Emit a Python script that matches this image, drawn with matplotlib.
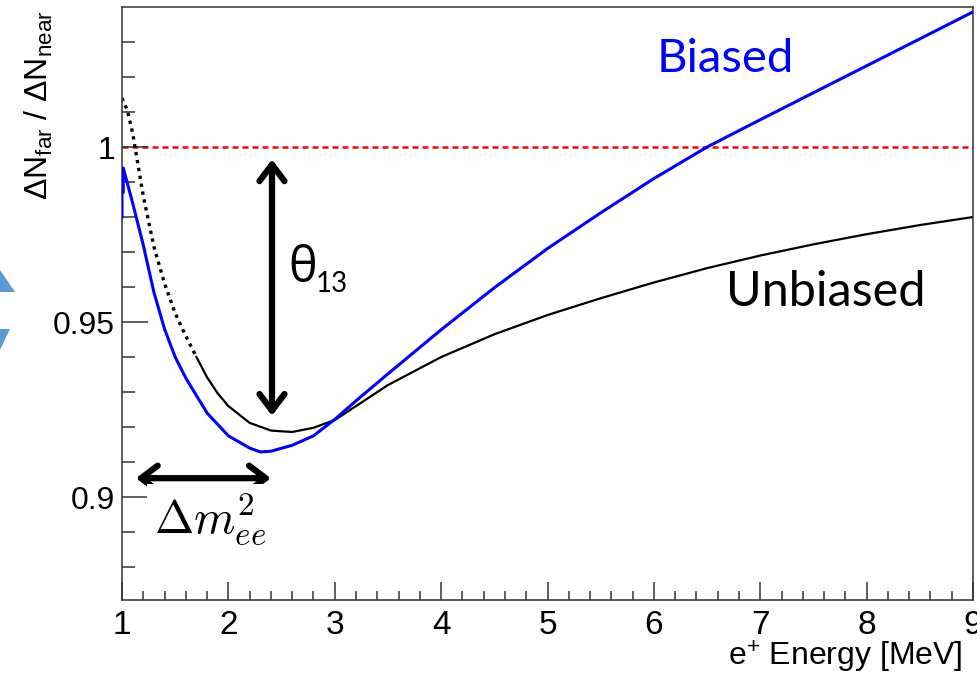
"""
far/near ratio vs positron energy, biased vs unbiased
"""
import numpy as np
import matplotlib
matplotlib.use('Agg')
import matplotlib.pyplot as plt
from matplotlib.patches import Polygon

plt.rcParams['font.family'] = ['Liberation Sans', 'DejaVu Sans']
plt.rcParams['mathtext.fontset'] = 'custom'
plt.rcParams['mathtext.rm'] = 'Liberation Sans'
plt.rcParams['mathtext.it'] = 'Liberation Sans:italic'

# unbiased (black) curve
e_unb = [1.00, 1.05, 1.10, 1.20, 1.30, 1.40, 1.50, 1.60, 1.70, 1.80, 1.90, 2.00, 2.20, 2.40,
         2.60, 2.80, 3.00, 3.50, 4.00, 4.50, 5.00, 5.50, 6.00, 6.50, 7.00, 7.50, 8.00,
         8.50, 9.00]
r_unb = [1.014, 1.0105, 1.004, 0.986, 0.9715, 0.961, 0.9525, 0.946, 0.9400, 0.9342, 0.9296,
         0.9260, 0.9212, 0.9190, 0.9186, 0.9198, 0.9220, 0.9320, 0.9400, 0.9465, 0.9520,
         0.9568, 0.9613, 0.9654, 0.9690, 0.9722, 0.9751, 0.9777, 0.9800]
e_dotted_end = 1.7

# biased (blue) curve, incl. the little step at threshold
e_bias = [1.00, 1.00, 1.012, 1.012, 1.10, 1.20, 1.30, 1.40, 1.50, 1.60, 1.80, 2.00, 2.20,
          2.30, 2.40, 2.60, 2.80, 3.00, 3.25, 3.50, 4.00, 4.50, 5.00, 5.50, 6.00, 6.50,
          7.00, 7.50, 8.00, 8.50, 9.00]
r_bias = [0.980, 0.987, 0.987, 0.994, 0.984, 0.972, 0.9585, 0.948, 0.940, 0.934, 0.924,
          0.9175, 0.914, 0.9129, 0.9131, 0.9148, 0.9175, 0.9222, 0.9288, 0.9352, 0.9478,
          0.9598, 0.9710, 0.9812, 0.9910, 1.0000, 1.0078, 1.0155, 1.0232, 1.0309, 1.0386]

ref_ratio = 1.0
y_ticks = [0.9, 0.95, 1.0]
y_ticklabels = ['0.9', '0.95', '1']
x_ticks = [1, 2, 3, 4, 5, 6, 7, 8, 9]


fig = plt.figure(figsize=(9.78, 6.77), dpi=100)
ax = fig.add_axes([122/978, 1 - 600/677, 851/978, 593/677])

e_unb = np.array(e_unb)
r_unb = np.array(r_unb)
dot = e_unb <= e_dotted_end
sol = e_unb >= e_dotted_end

ax.axhline(ref_ratio, color='red', lw=1.8, ls=(0, (2.4, 1.6)), zorder=1)
ax.plot(e_unb[dot], r_unb[dot], color='black', lw=2.4, ls=(0, (1, 1.4)), zorder=2)
ax.plot(e_unb[sol], r_unb[sol], color='black', lw=1.6, zorder=2)
ax.plot(e_bias, r_bias, color='#0000ff', lw=2.2, zorder=3)

ax.set_xlim(1, 9)
ax.set_ylim(0.8706, 1.04)
ax.set_xticks(x_ticks)
ax.set_xticklabels([str(v) for v in x_ticks])
ax.set_xticks(np.arange(1, 9.01, 0.2), minor=True)
ax.set_yticks(y_ticks)
ax.set_yticklabels(y_ticklabels)
ax.set_yticks(np.arange(0.88, 1.0351, 0.01), minor=True)

ax.tick_params(axis='both', which='both', direction='in', width=1.1, color='#333333',
               top=False, right=False)
ax.tick_params(axis='x', which='major', length=13, labelsize=24, pad=7)
ax.tick_params(axis='x', which='minor', length=6.5)
ax.tick_params(axis='y', which='major', length=19, labelsize=23, pad=5)
ax.tick_params(axis='y', which='minor', length=9.5)
for s in ax.spines.values():
    s.set_linewidth(1.1)
    s.set_color('#333333')

ax.set_xlabel('e$^{+}$ Energy [MeV]', fontsize=23, ha='right', va='top')
ax.xaxis.set_label_coords(0.988, -0.066)
ax.set_ylabel(r'ΔN$_{\mathrm{far}}$ / ΔN$_{\mathrm{near}}$', fontsize=23, loc='top')
ax.yaxis.set_label_coords(-0.079, 0.995)

# annotations
arw = dict(arrowstyle='<->,head_length=0.6,head_width=0.45', lw=4.5, color='black',
           mutation_scale=20, shrinkA=0, shrinkB=0)
ax.annotate('', xy=(2.41, 0.9965), xytext=(2.41, 0.9232), arrowprops=arw)
ax.annotate('', xy=(1.13, 0.9054), xytext=(2.40, 0.9054), arrowprops=arw)

lato = ['Lato', 'Open Sans', 'DejaVu Sans']
ax.text(2.56, 0.9613, 'θ', fontsize=35, family=['Open Sans', 'DejaVu Sans'], va='baseline')
ax.text(2.82, 0.9586, '13', fontsize=20, family=lato, va='baseline')
ax.text(6.03, 1.0214, 'Biased', fontsize=34, family=lato, color='#0000ff', va='baseline')
ax.text(6.68, 0.9546, 'Unbiased', fontsize=35, family=lato, color='black', va='baseline')
ax.text(1.30, 0.8897, r'$\Delta m^2_{ee}$', fontsize=34, math_fontfamily='cm',
        va='baseline', ha='left',
        bbox=dict(boxstyle='square,pad=0.15', fc='white', ec='none'), zorder=5)

# slide arrows peeking in at the left edge
W, H = 978.0, 677.0
for tri in ([(0, 270), (15, 292), (0, 292)], [(0, 329), (10, 329), (0, 350)]):
    pts = [(x / W, 1 - y / H) for x, y in tri]
    fig.patches.append(Polygon(pts, closed=True, fc='#5b9bd5', ec='none',
                               transform=fig.transFigure, figure=fig))

fig.savefig('out.png', dpi=100)
